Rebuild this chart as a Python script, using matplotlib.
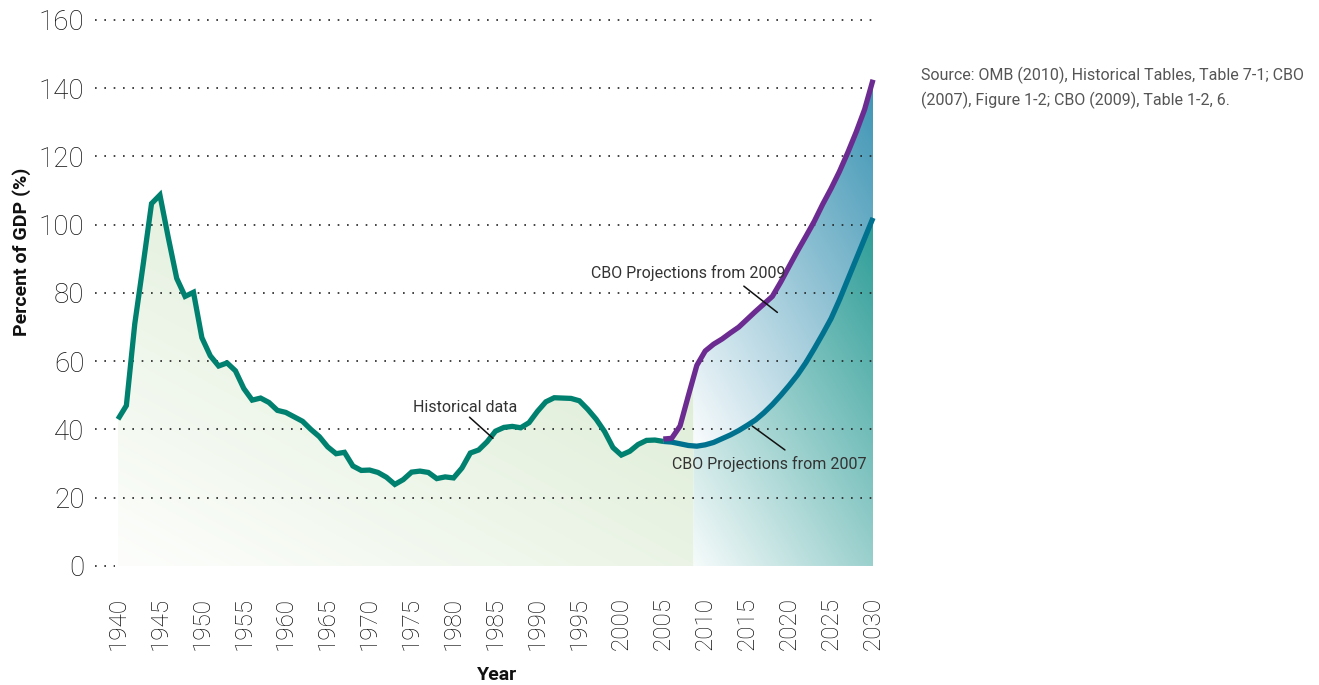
#!/usr/bin/env python3

import numpy as np
import matplotlib
matplotlib.use("Agg")
import matplotlib.pyplot as plt
from matplotlib.patches import Polygon
from matplotlib.colors import to_rgb

# Historical debt held by the public, percent of GDP (as drawn)
hist_years = list(range(1940, 2006))
hist_values = [43.0, 47.0, 70.9, 88.3, 106.2, 108.7, 96.2, 84.3, 79.0, 80.2,
               66.9, 61.6, 58.6, 59.5, 57.2, 52.0, 48.6, 49.2, 47.9, 45.6,
               45.0, 43.7, 42.4, 40.0, 37.9, 34.9, 32.9, 33.3, 29.3, 28.0,
               28.1, 27.4, 26.0, 23.9, 25.3, 27.5, 27.8, 27.4, 25.6, 26.1,
               25.8, 28.7, 33.1, 34.0, 36.4, 39.5, 40.6, 40.9, 40.5, 42.0,
               45.3, 48.1, 49.3, 49.2, 49.1, 48.4, 45.9, 43.0, 39.4, 34.7,
               32.5, 33.6, 35.6, 36.8, 36.9, 36.5]

# CBO projections
proj_years = list(range(2005, 2031))
cbo2009 = [37.2, 37.4, 41.0, 50.0, 58.8, 63.0, 65.0, 66.5, 68.3, 70.0,
           72.3, 74.6, 76.8, 79.0, 83.2, 87.8, 92.3, 96.6, 101.0, 106.0,
           110.6, 115.6, 121.2, 127.2, 133.8, 142.5]
cbo2007 = [36.5, 36.3, 35.8, 35.3, 35.1, 35.5, 36.2, 37.3, 38.4, 39.7,
           41.2, 42.8, 44.9, 47.3, 50.0, 52.9, 56.0, 59.6, 63.7, 68.0,
           72.5, 78.0, 84.0, 90.0, 96.0, 102.0]

y_ticks = [0, 20, 40, 60, 80, 100, 120, 140, 160]
x_ticks = list(range(1940, 2031, 5))
split_year = 2008.6  # where the shaded projection area begins

FONT = ["Roboto", "DejaVu Sans"]
plt.rcParams["font.family"] = FONT

fig = plt.figure(figsize=(13.19, 6.85), dpi=100)
ax = fig.add_axes([0.07036, 0.1688, 0.5947, 0.807])
XMIN, XMAX, YMIN, YMAX = 1937.0, 2030.5, -1.0, 161.0


def gradient_fill(ax, xs, top, bottom, c0, c1, extent, zorder):
    """Fill between top and bottom with a diagonal gradient c0 -> c1"""
    xs = np.asarray(xs)
    verts = np.column_stack([np.concatenate([xs, xs[::-1]]),
                             np.concatenate([top, np.asarray(bottom)[::-1]])])
    poly = Polygon(verts, closed=True, facecolor="none", edgecolor="none")
    ax.add_patch(poly)
    n = 300
    u, v = np.meshgrid(np.linspace(0, 1, n), np.linspace(0, 1, n))
    t = np.clip(0.45 * u + 0.55 * v, 0, 1)[..., None]
    img = np.array(to_rgb(c0)) * (1 - t) + np.array(to_rgb(c1)) * t
    im = ax.imshow(img, extent=extent, origin="lower", aspect="auto",
                   zorder=zorder, interpolation="bilinear")
    im.set_clip_path(poly)


# green area under the historical data (and the first purple years)
gx = np.array(hist_years + [2006, 2007, 2008, split_year], dtype=float)
gy = np.concatenate([hist_values, np.interp(gx[len(hist_years):], proj_years, cbo2009)])
gradient_fill(ax, gx, gy, np.zeros_like(gx), "#fdfefc", "#d3e7c9",
              (1940, split_year, 0, 112), 1)

# projection areas
px = np.concatenate([[split_year], [y for y in proj_years if y > split_year]]).astype(float)
p09 = np.interp(px, proj_years, cbo2009)
p07 = np.interp(px, proj_years, cbo2007)
gradient_fill(ax, px, p09, p07, "#ffffff", "#3b93b3",
              (split_year, 2030, 30, 145), 1)
gradient_fill(ax, px, p07, np.zeros_like(px), "#f6fbfb", "#2a9b95",
              (split_year, 2030, 0, 105), 1)

# dotted grid
for yv in y_ticks:
    x_end = 1939.7 if yv == 0 else 2030
    ax.hlines(yv, 1937.3, x_end, colors="#222222", linewidth=1.2,
              linestyles=(0, (1, 4.6)), zorder=2)

ax.plot(hist_years, hist_values, color="#00806f", linewidth=3.8, zorder=4,
        solid_joinstyle="miter", solid_capstyle="butt")
ax.plot(proj_years, cbo2007, color="#00718e", linewidth=3.8, zorder=3,
        solid_capstyle="butt")
ax.plot(proj_years, cbo2009, color="#6c2b90", linewidth=3.8, zorder=5,
        solid_capstyle="butt")

ax.set_xlim(XMIN, XMAX)
ax.set_ylim(YMIN, YMAX)
for s in ax.spines.values():
    s.set_visible(False)
ax.set_yticks(y_ticks)
ax.set_yticklabels([str(v) for v in y_ticks], fontsize=20, color="#111111",
                   fontweight="light")
ax.set_xticks(x_ticks)
ax.set_xticklabels([str(v) for v in x_ticks], rotation=90, fontsize=17.5,
                   color="#111111", fontweight="light")
ax.tick_params(axis="y", length=0, pad=6)
ax.tick_params(axis="x", length=0, pad=20)

fig.text(22 / 1319, 1 - 252 / 685, "Percent of GDP (%)", rotation=90,
         ha="center", va="center", fontsize=14, fontweight="bold", color="#111111")
fig.text(497 / 1319, 1 - 675 / 685, "Year", ha="center", va="center",
         fontsize=14, fontweight="bold", color="#111111")

# callouts
ann = dict(fontsize=11.5, color="#333333", ha="center", va="center")
line = dict(arrowstyle="-", color="#111111", linewidth=1.1, shrinkA=0, shrinkB=0)
ax.annotate("", xy=(1984.7, 37.4), xytext=(1981.9, 43.6), arrowprops=line, zorder=6)
ax.text(1981.4, 46.4, "Historical data", **ann, zorder=6)
ax.annotate("", xy=(2018.6, 74.3), xytext=(2014.6, 82.0), arrowprops=line, zorder=6)
ax.text(2008.0, 86.0, "CBO Projections from 2009", **ann, zorder=6)
ax.annotate("", xy=(2019.5, 34.0), xytext=(2015.6, 41.0), arrowprops=line, zorder=6)
ax.text(2017.6, 29.9, "CBO Projections from 2007", **ann, zorder=6)

fig.text(921 / 1319, 1 - 88 / 685,
         "Source: OMB (2010), Historical Tables, Table 7-1; CBO\n"
         "(2007), Figure 1-2; CBO (2009), Table 1-2, 6.",
         ha="left", va="center", fontsize=11.5, color="#555555", linespacing=1.6)

fig.savefig("out.png", dpi=100)
